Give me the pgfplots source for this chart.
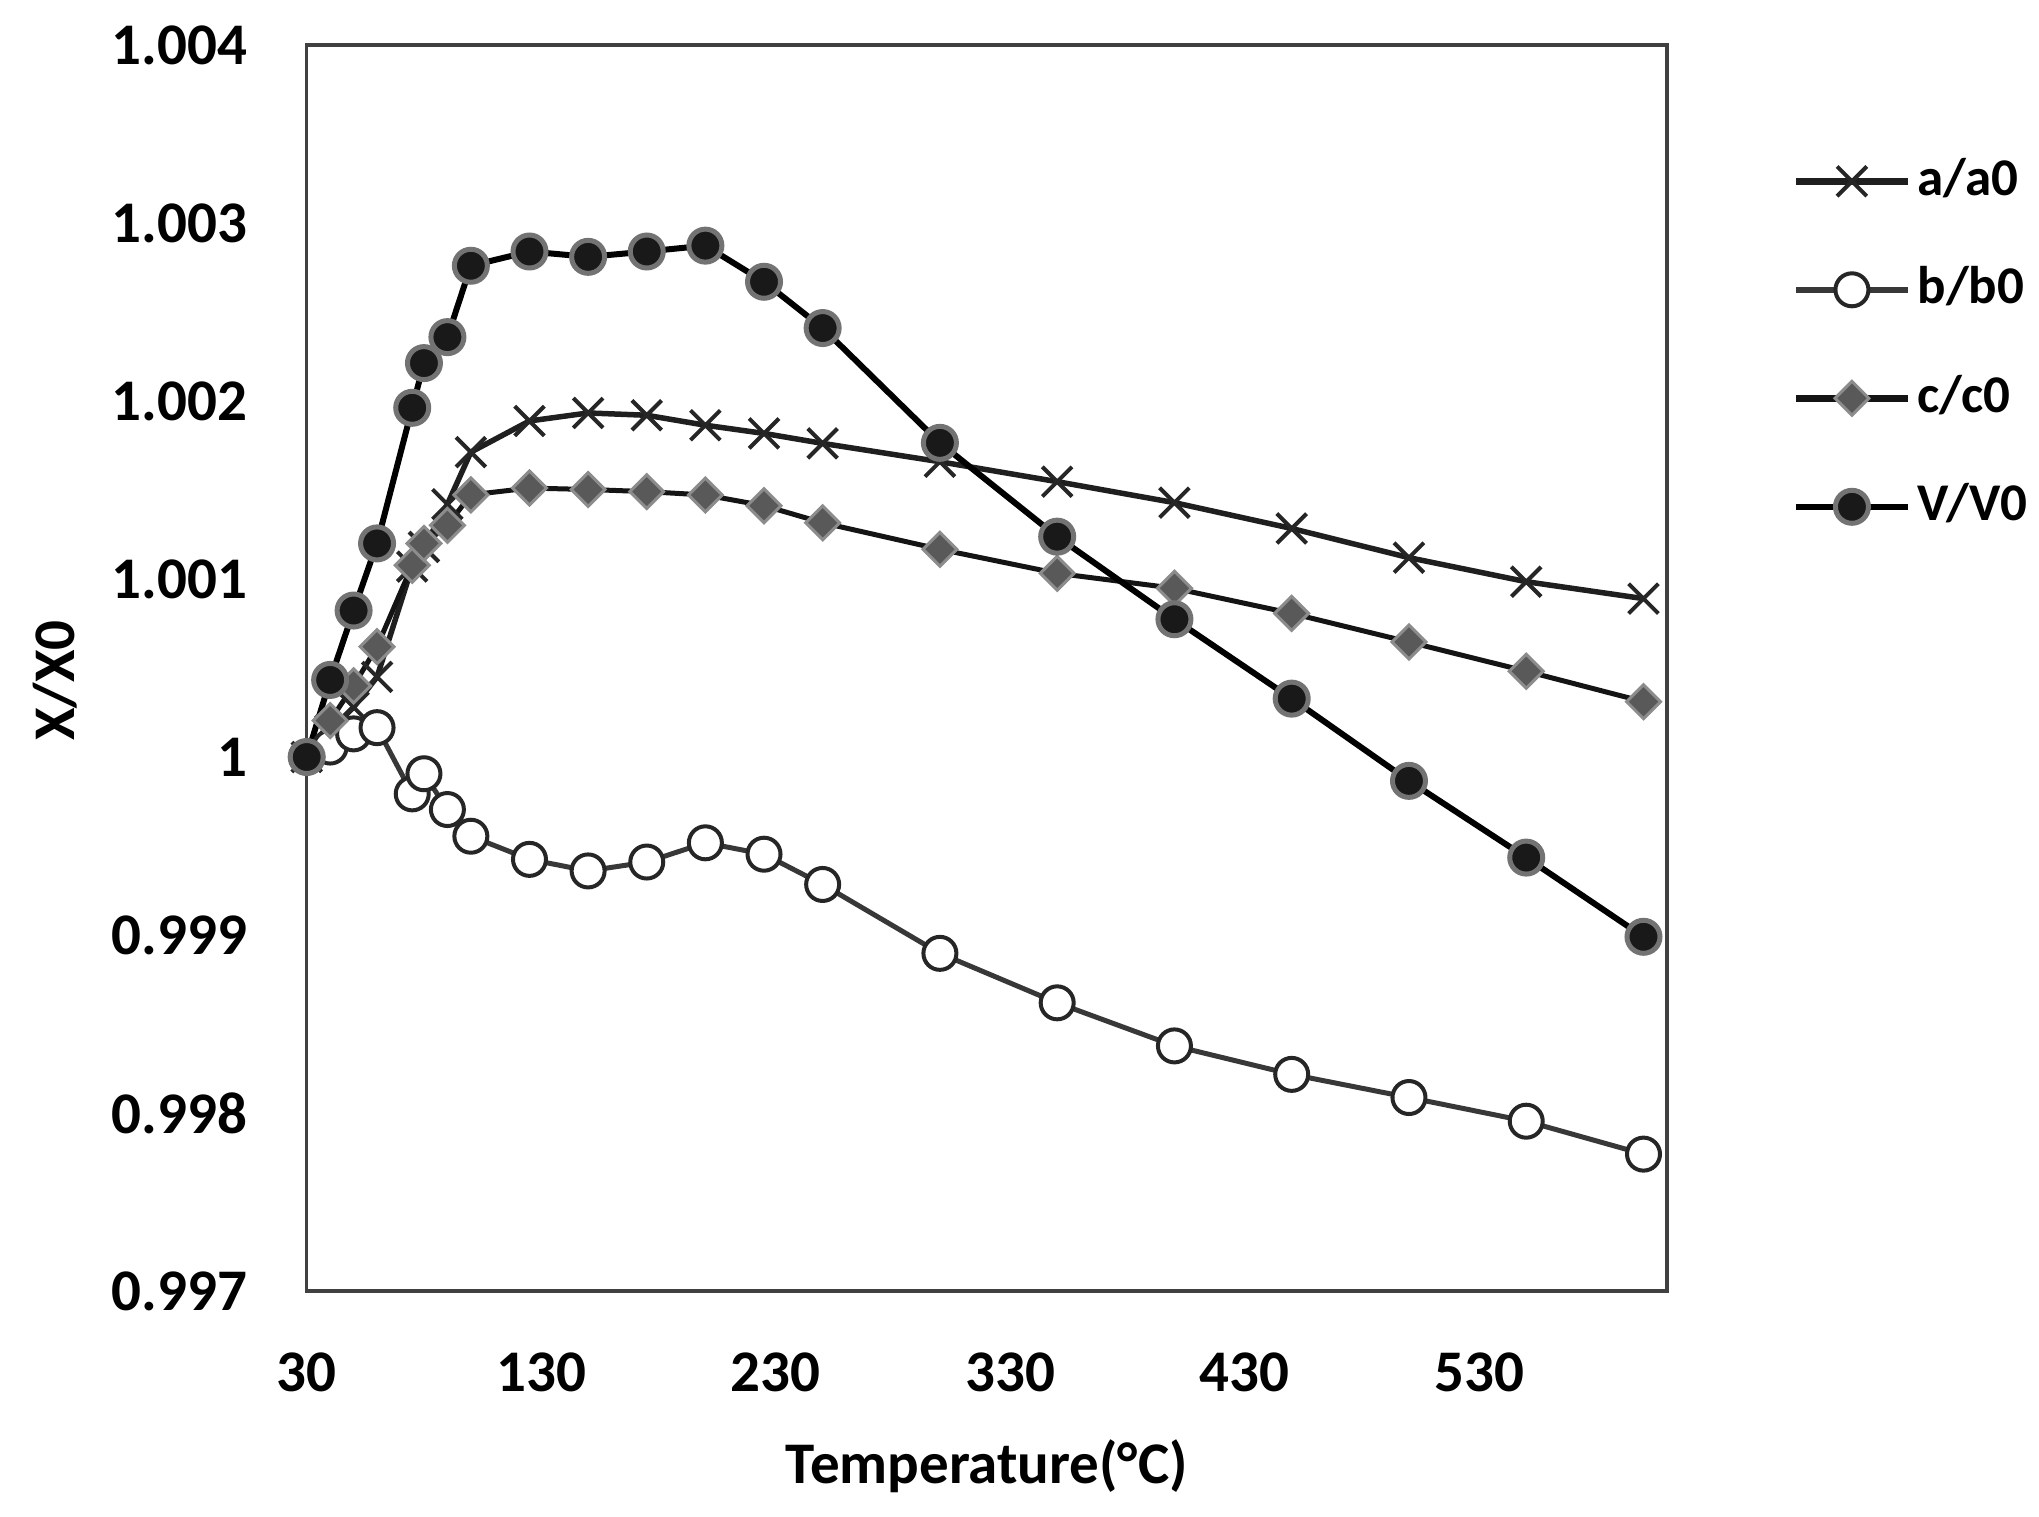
\documentclass[border=0pt]{standalone}
\usepackage{fontspec}
\setmainfont{Carlito}
\usepackage{pgfplots}
\usepackage{pgfplotstable}
\pgfplotsset{compat=1.18}
\newcommand\chartfont{\fontsize{11.8}{14}\selectfont\bfseries}
\newcommand\legendfont{\fontsize{10.6}{13}\selectfont\bfseries}
\pgfplotstableread{
T    a         b         c         V
30   1.000000  1.000000  1.000000  1.000000
40   1.000150  1.000056  1.000205  1.000433
50   1.000280  1.000130  1.000400  1.000823
60   1.000450  1.000165  1.000620  1.001200
75   1.001070  0.999793  1.001077  1.001962
80   1.001180  0.999906  1.001200  1.002213
90   1.001420  0.999705  1.001302  1.002359
100  1.001713  0.999555  1.001473  1.002760
125  1.001888  0.999425  1.001511  1.002840
150  1.001933  0.999360  1.001503  1.002810
175  1.001920  0.999410  1.001491  1.002840
200  1.001864  0.999518  1.001472  1.002873
225  1.001818  0.999454  1.001412  1.002670
250  1.001762  0.999284  1.001316  1.002410
300  1.001659  0.998897  1.001167  1.001765
350  1.001547  0.998619  1.001032  1.001238
400  1.001429  0.998377  1.000948  1.000774
450  1.001284  0.998217  1.000807  1.000328
500  1.001120  0.998087  1.000646  0.999866
550  1.000985  0.997954  1.000482  0.999435
600  1.000890  0.997769  1.000311  0.998990
}\data
\begin{document}
\begin{tikzpicture}
\path[use as bounding box] (-61.34pt,-45pt) rectangle (346.46pt,258.2pt);
\begin{axis}[
  at={(0pt,0pt)}, anchor=south west,
  scale only axis, width=272.06pt, height=249.2pt,
  xmin=30, xmax=610, ymin=0.997, ymax=1.004,
  clip=false,
  axis line style={draw=black!75, line width=0.65pt},
  major tick length=0pt, tick style={draw=none},
  xtick={30,130,230,330,430,530},
  xticklabels={30,130,230,330,430,530},
  ytick={0.997,0.998,0.999,1,1.001,1.002,1.003,1.004},
  yticklabels={0.997,0.998,0.999,1,1.001,1.002,1.003,1.004},
  ticklabel style={font=\chartfont, inner sep=0pt},
  xticklabel style={anchor=north, yshift=-12.2pt},
  yticklabel style={anchor=east, xshift=-11.7pt},
  xlabel={Temperature(°C)},
  ylabel={X/X0},
  label style={font=\chartfont},
  xlabel style={at={(axis description cs:0.5,0)}, anchor=north, yshift=-29.5pt, inner sep=0pt},
  ylabel style={at={(axis description cs:-0.1846,0.49)}, anchor=center, rotate=0, inner sep=0pt},
  legend style={at={(axis description cs:1.0917,0.9125)}, anchor=north west,
    draw=none, fill=none, inner sep=0pt, font=\legendfont, row sep=11.2pt,
    nodes={inner sep=0pt, text height=8pt, text depth=2.5pt},
    /tikz/every odd column/.append style={column sep=1.3pt}},
  legend cell align=left,
  legend image code/.code={\draw[line width=1.3pt, mark repeat=2,mark phase=2] plot coordinates {(0pt,0pt) (11.2pt,0pt) (22.4pt,0pt)};},
]
\addplot[black!88, line width=1.1pt, mark=x, mark size=4.2pt,
  mark options={draw=black!85, line width=0.8pt}] table[x=T,y=a] {\data};
\addlegendentry{a/a0}
\addplot[black!78, line width=1pt, mark=*, mark size=3.3pt,
  mark options={fill=white, draw=black!85, line width=0.8pt}] table[x=T,y=b] {\data};
\addlegendentry{b/b0}
\addplot[black!92, line width=1pt, mark=square*, mark size=2.4pt,
  mark options={rotate=45, fill=black!65, draw=black!45, line width=0.6pt}] table[x=T,y=c] {\data};
\addlegendentry{c/c0}
\addplot[black, line width=1.2pt, mark=*, mark size=3.3pt,
  mark options={fill=black!90, draw=black!55, line width=1pt}] table[x=T,y=V] {\data};
\addlegendentry{V/V0}
\end{axis}
\end{tikzpicture}
\end{document}
